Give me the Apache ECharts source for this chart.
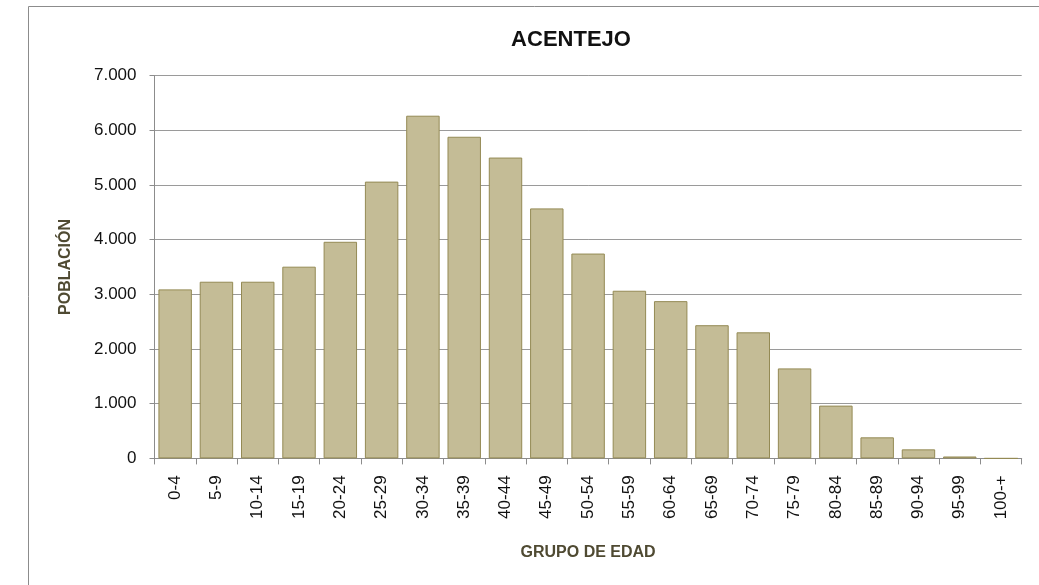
<!DOCTYPE html>
<html>
<head>
<meta charset="utf-8">
<script src="https://cdn.jsdelivr.net/npm/echarts@6/dist/echarts.min.js"></script>
<style>html,body{margin:0;padding:0;background:#fff;}#c{width:1039px;height:585px;}</style>
</head>
<body>
<div id="c"></div>
<script>
const categories = ['0-4','5-9','10-14','15-19','20-24','25-29','30-34','35-39','40-44','45-49','50-54','55-59','60-64','65-69','70-74','75-79','80-84','85-89','90-94','95-99','100-+'];
const poblacion = [3090,3230,3230,3505,3960,5060,6265,5880,5500,4570,3745,3065,2875,2435,2305,1645,965,385,165,35,0];
const yTicks = [0,1000,2000,3000,4000,5000,6000,7000];

const chart = echarts.init(document.getElementById('c'), null, {renderer:'canvas'});
const FONT = 'Liberation Sans';
chart.setOption({
  animation:false,
  backgroundColor:'#fff',
  graphic:[{type:'rect',shape:{x:28.5,y:6.5,width:1100,height:700},style:{fill:'none',stroke:'#8c8c8c',lineWidth:1}}],
  title:{text:'ACENTEJO',left:566,top:24,textAlign:'center',textStyle:{fontFamily:FONT,fontSize:22,fontWeight:'bold',color:'#111'}},
  grid:{left:154.5,right:17.3,top:75.5,bottom:126.6,containLabel:false},
  xAxis:{type:'category',data:categories,
    name:'GRUPO DE EDAD',nameLocation:'middle',nameGap:86,
    nameTextStyle:{fontFamily:FONT,fontSize:16,fontWeight:'bold',color:'#4f4a32'},
    axisLine:{lineStyle:{color:'#8c8c8c',width:1}},
    axisTick:{show:true,length:6,alignWithLabel:false,lineStyle:{color:'#8c8c8c'}},
    axisLabel:{rotate:90,interval:0,margin:17,fontFamily:FONT,fontSize:17,color:'#111'}},
  yAxis:{type:'value',min:0,max:7000,interval:1000,
    name:'POBLACIÓN',nameLocation:'middle',nameGap:81,nameRotate:90,
    nameTextStyle:{fontFamily:FONT,fontSize:16,fontWeight:'bold',color:'#4f4a32'},
    axisLine:{show:true,lineStyle:{color:'#8c8c8c',width:1}},
    axisTick:{show:true,length:5,lineStyle:{color:'#8c8c8c'}},
    splitLine:{lineStyle:{color:'#9a9a9a',width:1}},
    axisLabel:{margin:18,fontFamily:FONT,fontSize:17,color:'#111',
      formatter:function(v){return yTicks.indexOf(v)>=0 ? v.toLocaleString('de-DE') : '';}}},
  series:[{type:'bar',data:poblacion,barCategoryGap:'19%',
    itemStyle:{color:'#c4bc96',borderColor:'#948a54',borderWidth:1}}]
});
</script>
</body>
</html>
